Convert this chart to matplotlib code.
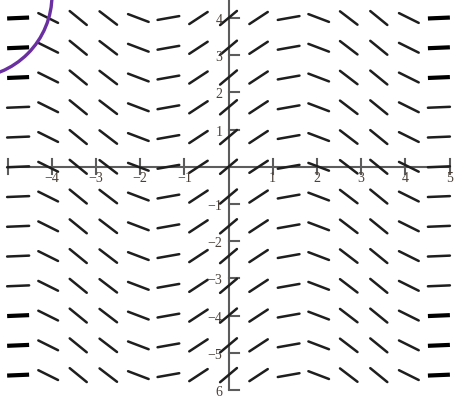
import numpy as np
import matplotlib
matplotlib.use("Agg")
import matplotlib.pyplot as plt
from matplotlib.collections import LineCollection
from matplotlib.patches import Ellipse

# slope field dy/dx read per column (depends on x only)
x_cols = [-4.76, -4.08, -3.4, -2.72, -2.04, -1.36, -0.68, 0.0,
          0.68, 1.36, 2.04, 2.72, 3.4, 4.08, 4.76]
slopes = [0.05, -0.59, -0.97, -0.91, -0.45, 0.21, 0.78, 1.0,
          0.78, 0.21, -0.45, -0.91, -0.97, -0.59, 0.05]
y_rows = [4.0, 3.2, 2.4, 1.6, 0.8, 0.0, -0.8, -1.6, -2.4, -3.2, -4.0, -4.8, -5.6]
bold_rows = [4.0, 3.2, 2.4, -4.0, -4.8, -5.6]

x_ticks = [-5, -4, -3, -2, -1, 1, 2, 3, 4, 5]
x_ticklabels = ["", "−4", "−3", "−2", "−1", "1", "2", "3", "4", "5"]
y_ticks = [4, 3, 2, 1, -1, -2, -3, -4, -5, -6]
y_ticklabels = ["4", "3", "2", "1", "−1", "−2", "−3", "−4", "−5", "6"]

W, H = 455, 400
fig = plt.figure(figsize=(W / 100, H / 100), dpi=100)
ax = fig.add_axes([0, 0, 1, 1])
xlim = (-5.17, 5.124)
ylim = (-6.269, 4.484)
ax.set_xlim(*xlim)
ax.set_ylim(*ylim)
ax.axis("off")

sx = W / (xlim[1] - xlim[0])   # px per unit
sy = H / (ylim[1] - ylim[0])

axis_col = "#5c5c5c"
# axes lines
ax.plot([-5, 5], [0, 0], color=axis_col, lw=1.5, zorder=1, solid_capstyle="butt")
ax.plot([0, 0], [-6, ylim[1]], color=axis_col, lw=1.5, zorder=1, solid_capstyle="butt")
# x ticks (crossing)
for t in x_ticks:
    ax.plot([t, t], [-7.5 / sy, 7.5 / sy], color=axis_col, lw=1.5, zorder=1)
# y ticks (to the right of the axis)
for t in y_ticks:
    ax.plot([0, 10 / sx], [t, t], color=axis_col, lw=1.5, zorder=1)

lab_col = "#4a4038"
for t, lab in zip(x_ticks, x_ticklabels):
    if lab:
        ax.text(t, -11.5 / sy, lab, ha="center", va="center", fontsize=10,
                family="Liberation Serif", color=lab_col, zorder=3)
for t, lab in zip(y_ticks, y_ticklabels):
    ax.text(-6 / sx, t - 2.5 / sy, lab, ha="right", va="center", fontsize=10,
            family="Liberation Serif", color=lab_col, zorder=3)

# slope segments
L = 22.0
thin, bold = [], []
for y in y_rows:
    for i, (x, m) in enumerate(zip(x_cols, slopes)):
        th = np.arctan2(m * sy, sx)
        dx = L / 2 * np.cos(th) / sx
        dy = L / 2 * np.sin(th) / sy
        seg = [(x - dx, y - dy), (x + dx, y + dy)]
        if y in bold_rows and i in (0, len(x_cols) - 1):
            bold.append(seg)
        else:
            thin.append(seg)
ax.add_collection(LineCollection(thin, colors="#1e1e1e", linewidths=1.8,
                                 capstyle="round", zorder=2))
ax.add_collection(LineCollection(bold, colors="#000000", linewidths=3.0,
                                 capstyle="butt", zorder=2))

# purple annotation arc (circle centred off-canvas, top-left)
cx, cy, r = -31, -5, 83  # pixels from top-left
fig.add_artist(Ellipse((cx / W, 1 - cy / H), 2 * r / W, 2 * r / H,
                       transform=fig.transFigure, fill=False,
                       edgecolor="#6a2fa0", lw=2.4, zorder=5))

fig.savefig("out.png", dpi=100)
